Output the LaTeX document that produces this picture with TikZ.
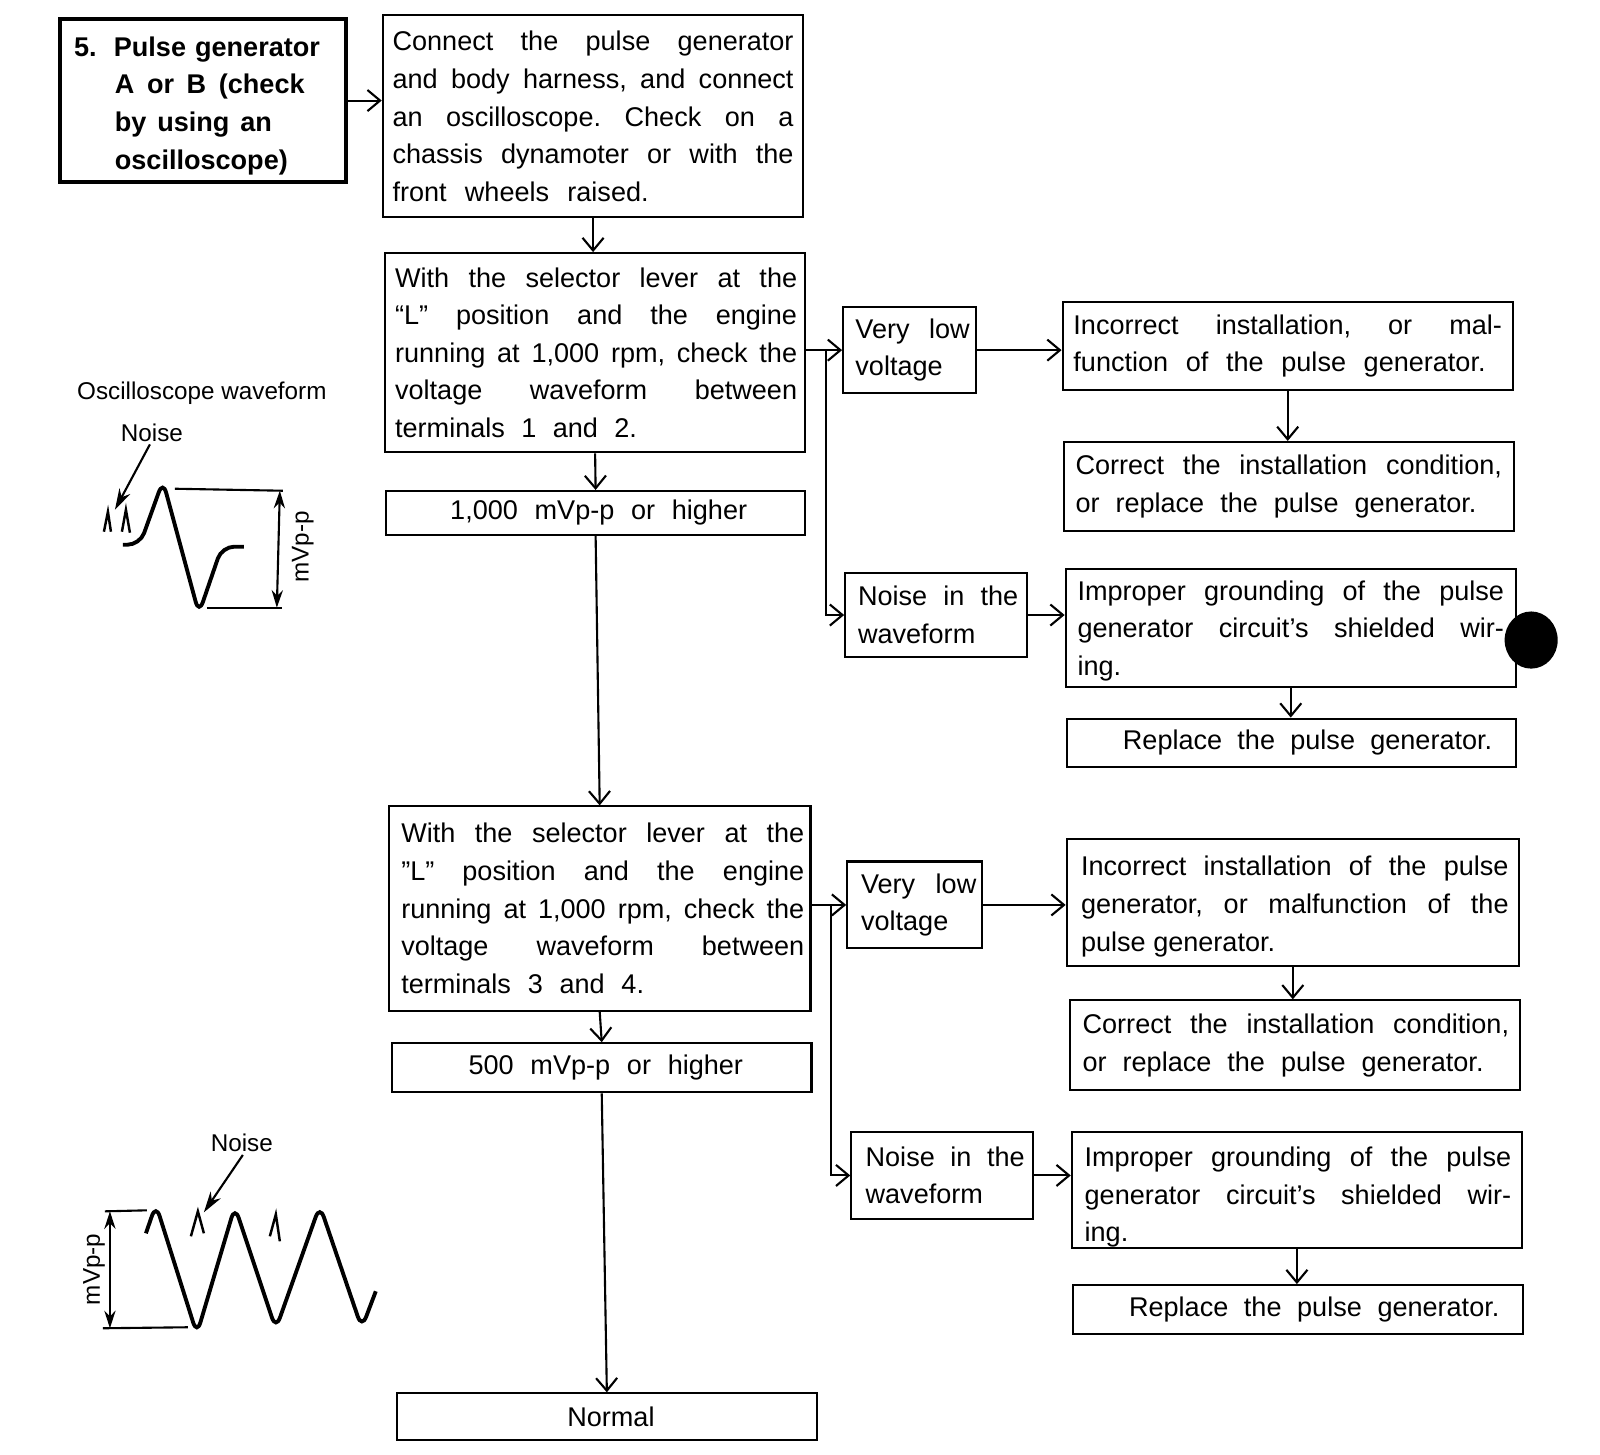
\documentclass[tikz,border=0pt]{standalone}
\usepackage{fontspec}
\setmainfont{Liberation Sans}
\usetikzlibrary{arrows.meta,calc}
\newlength\linew
\newlength\linepad
\newcommand{\puw}[1]{\dimexpr 0.2903pt*#1\relax}
\newcommand{\J}[1]{\hspace*{\linepad}\makebox[\linew][s]{#1}}
\newcommand{\Lf}[1]{\hspace*{\linepad}\makebox[\linew][l]{#1}}
\newcommand{\Sw}[2]{\makebox[\puw{#1}][s]{#2}}
\newcommand{\Jp}[2]{\hspace*{\linepad}\makebox[\linew][l]{\Sw{#1}{#2}}}
\newcommand{\Rp}[2]{\hspace*{\linepad}\makebox[\linew][r]{\Sw{#1}{#2}}}
\newcommand{\Top}[1]{\rule{0pt}{\dimexpr 5.6pt+#1\relax}}
\newcommand{\pad}[1]{\linepad=\puw{#1}\relax}
\newcommand{\bx}[8][]{%
  \linew=\puw{#7}\relax
  \node[boxst,#1,minimum width={(#5-#3)*0.010205cm},minimum height={(#6-#4)*0.010205cm}]
    (#2) at ({(#3+#5)/2},{(#4+#6)/2}) {#8};}
\tikzset{
  boxst/.style={draw=black,line width=0.6pt,inner sep=0pt,align=center,fill=white,
    font=\fontsize{7.7}{10.7}\selectfont\frenchspacing},
  leadbox/.style={line width=1.1pt,font=\fontsize{7.7}{10.7}\selectfont\bfseries},
  flow/.style={line width=0.6pt,-{Straight Barb[length=3.6pt,width=6pt,line width=0.6pt]}},
  wave/.style={line width=1.1pt,rounded corners=3.5pt},
  thinline/.style={line width=0.6pt},
  dimarrow/.style={line width=0.6pt,{Stealth[length=5pt,width=3.2pt]}-{Stealth[length=5pt,width=3.2pt]}},
  pointer/.style={line width=0.6pt,-{Stealth[length=6pt,width=3.5pt]}},
  capt/.style={inner sep=0pt,font=\fontsize{6.9}{8}\selectfont},
  spike/.style={line width=0.7pt}
}
\begin{document}
\begin{tikzpicture}[x=0.010205cm,y=-0.010205cm]
\useasboundingbox (0,0) rectangle (16cm,-14.54cm);
\pad{0}
\bx[leadbox]{a}{59}{19}{339}{178}{253}{%
  \Top{2.9pt}\Lf{\makebox[\puw{39}][l]{5.}\Sw{202}{Pulse generator}}\\
  \Lf{\hspace*{\puw{40}}\Sw{186}{A or B (check}}\\
  \Lf{\hspace*{\puw{40}}\Sw{154}{by using an}}\\
  \Lf{\hspace*{\puw{40}}oscilloscope)}}
\bx{b}{375}{15}{787}{213}{393}{\J{Connect the pulse generator}\\\J{and body harness, and connect}\\\J{an oscilloscope. Check on a}\\\J{chassis dynamoter or with the}\\\Jp{251}{front wheels raised.}}
\pad{2}
\bx{c}{377}{248}{789}{443}{394}{\J{With the selector lever at the}\\\J{“L” position and the engine}\\\J{running at 1,000 rpm, check the}\\\J{voltage waveform between}\\\Jp{237}{terminals 1 and 2.}}
\pad{6}
\bx{d}{378}{481}{789}{524}{291}{\J{1,000 mVp-p or higher}}
\bx{e}{826}{301}{956}{385}{112}{\J{Very low}\\\Lf{voltage}}
\pad{0}
\bx{f}{1041}{296}{1482}{382}{420}{\J{Incorrect installation, or mal-}\\\Jp{404}{function of the pulse generator.}}
\bx{g}{1042}{433}{1483}{520}{418}{\J{Correct the installation condition,}\\\Jp{393}{or replace the pulse generator.}}
\pad{4}
\bx{h}{828}{561}{1006}{644}{157}{\J{Noise in the}\\\Lf{waveform}}
\pad{0}
\bx{i}{1044}{557}{1485}{673}{418}{\Top{1.75pt}\J{Improper grounding of the pulse}\\\J{generator circuit’s shielded wir-}\\\Lf{ing.}}
\bx{j}{1045}{704}{1485}{751}{394}{\Rp{362}{Replace the pulse generator.}}
\pad{6}
\bx{k}{381}{790}{794}{990}{395}{\J{With the selector lever at the}\\\J{”L” position and the engine}\\\J{running at 1,000 rpm, check the}\\\J{voltage waveform between}\\\Jp{238}{terminals 3 and 4.}}
\pad{8}
\bx{l}{384}{1022}{795}{1070}{269}{\J{500 mVp-p or higher}}
\bx{m}{830}{844}{962}{929}{113}{\J{Very low}\\\Lf{voltage}}
\pad{4}
\bx{n}{1045}{822}{1488}{946}{419}{\Top{2.3pt}\J{Incorrect installation of the pulse}\\\J{generator, or malfunction of the}\\\Lf{pulse generator.}}
\pad{2}
\bx{o}{1048}{980}{1489}{1068}{418}{\J{Correct the installation condition,}\\\Jp{393}{or replace the pulse generator.}}
\pad{6}
\bx{p}{834}{1109}{1012}{1194}{156}{\J{Noise in the}\\\Lf{waveform}}
\pad{2}
\bx{q}{1050}{1109}{1491}{1223}{418}{\Top{4.0pt}\J{Improper grounding of the pulse}\\\J{generator circuit’s shielded wir-}\\\Lf{ing.}}
\pad{0}
\bx{r}{1051}{1259}{1492}{1307}{395}{\Rp{363}{Replace the pulse generator.}}
\bx{s}{389}{1365}{800}{1411}{100}{\hspace*{\puw{8}}Normal}
% black blot
\fill[black] (1500,627) ellipse [x radius=26,y radius=28];
% connectors
\draw[flow] (a.east) -- (a.east -| b.west);
\draw[flow] (b.south) -- (b.south |- c.north);
\draw[flow] (c.south) -- (d.north);
\draw[flow] (d.south) -- (k.north);
\draw[flow] (k.south) -- (l.north);
\draw[flow] (l.south) -- (s.north);
\draw[flow] (c.east |- e.west) -- (e.west);
\coordinate (j1) at (809,343);
\draw[flow] (j1) |- (h.west);
\draw[flow] (k.east |- m.west) -- (m.west);
\coordinate (j2) at (814,887);
\draw[flow] (j2) |- (p.west);
\draw[flow] (e.east) -- (e.east -| f.west);
\draw[flow] (f.south) -- (f.south |- g.north);
\draw[flow] (h.east) -- (h.east -| i.west);
\draw[flow] (i.south) -- (i.south |- j.north);
\draw[flow] (m.east) -- (m.east -| n.west);
\draw[flow] (n.south) -- (n.south |- o.north);
\draw[flow] (p.east) -- (p.east -| q.west);
\draw[flow] (q.south) -- (q.south |- r.north);
% waveforms (true pixel coordinates)
\begin{scope}[x=0.01cm,y=-0.01cm]
\node[capt] (osc) at (202,393) {Oscilloscope waveform};
\node[capt] (n1) at (152,433) {Noise};
\coordinate (n1t) at (115,510);
\draw[pointer] (n1.south) ++(-2,2) -- (n1t);
\draw[wave] (123,545) -- (140,545) -- (163,481) -- (199,614) -- (222,547) -- (244,547);
\draw[spike] (104,532) -- (108,512) -- (111,532);
\draw[spike] (122,532) -- (126,510) -- (130,533);
\draw[thinline] (175,489) -- (283,491);
\draw[thinline] (207,608) -- (282,608);
\coordinate (d1a) at (280,491);
\coordinate (d1b) at (277,608);
\draw[dimarrow] (d1a) -- (d1b);
\node[capt,rotate=90] (mv1) at (303,547) {mVp-p};
\node[capt] (n2) at (242,1143) {Noise};
\coordinate (n2t) at (204,1213);
\draw[pointer] (n2.south) ++(1,3) -- (n2t);
\draw[wave] (146,1234) -- (156,1205) -- (197,1335) -- (235,1207) -- (276,1330) -- (320,1206) -- (362,1329) -- (376,1292);
\draw[spike] (191,1237) -- (198,1212) -- (204,1234);
\draw[spike] (270,1237) -- (276,1215) -- (280,1242);
\draw[thinline] (105,1212) -- (147,1211);
\draw[thinline] (103,1329) -- (188,1328);
\coordinate (d2a) at (110,1212);
\coordinate (d2b) at (110,1329);
\draw[dimarrow] (d2a) -- (d2b);
\node[capt,rotate=90] (mv2) at (94,1270) {mVp-p};
\end{scope}
\end{tikzpicture}
\end{document}
